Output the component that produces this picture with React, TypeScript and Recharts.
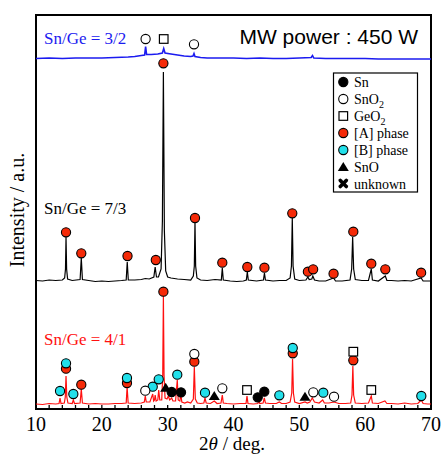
import React from "react";
import { ComposedChart, Line, Scatter, XAxis, YAxis, ReferenceArea } from "recharts";

type Pt = [number, number];

// 2θ (deg) vs intensity (a.u.), each trace relative to its own baseline
const RED_TRACE: Pt[] = [
  [10, 1], [11, 0.5], [12, 1.5], [13, 1], [13.5, 1.5], [13.65, 7], [13.8, 1.5], [14.3, 2], [14.45, 8],
  [14.56, 29], [14.68, 8], [14.85, 2], [15.5, 1.5], [15.67, 5], [15.85, 1.5], [16.7, 2], [16.88, 16],
  [17.05, 2], [18, 1], [19, 1.5], [20, 1], [21, 1], [22, 1.5], [23, 1.5], [23.7, 2], [23.84, 18],
  [24.0, 2], [25, 1.5], [26, 2], [26.45, 3], [26.6, 9], [26.75, 3], [27.3, 3], [27.73, 11], [27.87, 4],
  [28.0, 5], [28.1, 10], [28.25, 4], [28.5, 5], [28.64, 15], [28.8, 5], [29.1, 5], [29.25, 30],
  [29.35, 109], [29.45, 30], [29.6, 7], [29.9, 6], [30.1, 9], [30.3, 5], [30.61, 7], [30.8, 4],
  [31.2, 4], [31.46, 25], [31.6, 5], [31.85, 4], [32.0, 11], [32.15, 3], [32.6, 2], [33.0, 3],
  [33.5, 2], [33.9, 6], [34.05, 38], [34.2, 6], [34.5, 2], [35.0, 1.5], [35.5, 2], [35.67, 7],
  [35.85, 2], [36.5, 1.5], [37.08, 4], [37.5, 1.5], [38.1, 2], [38.3, 10], [38.45, 2], [39, 1.5],
  [40, 1], [41, 1.5], [41.9, 1.5], [42.05, 9], [42.2, 1.5], [43, 1], [43.7, 1.5], [43.85, 4],
  [44, 1.5], [44.5, 2], [44.68, 7], [44.85, 2], [45.5, 1.5], [46.5, 1.5], [46.96, 3], [47.3, 1.5],
  [48, 1.5], [48.6, 3], [48.85, 12], [48.97, 46], [49.1, 12], [49.3, 3], [50, 1.5], [50.86, 3],
  [51.2, 2], [51.6, 3], [51.97, 7], [52.3, 3], [53, 2], [53.55, 5], [53.8, 2], [54.5, 2], [55.27, 3],
  [56, 1.5], [57, 1.5], [57.8, 2], [58.0, 10], [58.13, 39], [58.25, 10], [58.5, 2], [59.5, 1.5],
  [60.5, 2], [60.93, 9], [61.1, 2], [62, 1.5], [63, 4], [63.3, 1.5], [64, 1.5], [65, 1], [66, 2],
  [67, 1], [68, 1.5], [68.53, 5], [68.8, 1.5], [69.5, 1], [70, 1],
];

const BLACK_TRACE: Pt[] = [
  [10, 0.5], [11, 0], [12, 1], [13, 0.5], [14, 1], [14.35, 3], [14.48, 12], [14.56, 44], [14.65, 12],
  [14.8, 2], [15.5, 0.5], [16.7, 1.5], [16.88, 23], [17.05, 1.5], [18, 0.5], [19, -0.5], [20, 0],
  [21, -0.5], [22, 0], [23, 0.5], [23.7, 1], [23.86, 19], [24.02, 1], [25, 1], [26, 1.5], [26.6, 2.5],
  [27.2, 2], [27.9, 4], [28.1, 14], [28.3, 4], [28.6, 4], [29.0, 12], [29.2, 60], [29.35, 209],
  [29.5, 50], [29.7, 10], [30.0, 4], [30.5, 3], [31.0, 2.5], [31.5, 2], [32.5, 1.5], [33.5, 1],
  [33.9, 5], [34.05, 15], [34.15, 59], [34.25, 15], [34.45, 3], [35, 1], [36, 0.5], [37.2, 1.5],
  [38.15, 1], [38.3, 13], [38.45, 1], [39.5, 0], [40.5, -0.5], [41.5, 0], [41.95, 1], [42.1, 9],
  [42.25, 1], [43.5, 0], [44.55, 1], [44.7, 8], [44.85, 1], [46, 0], [47, 0.5], [48, 0.5], [48.6, 3],
  [48.8, 15], [48.93, 63], [49.05, 15], [49.3, 2], [50, 0.5], [51, 1], [51.3, 4], [51.5, 1.5],
  [51.9, 2], [52.05, 5], [52.3, 1], [53, 0], [54, 0], [55.2, 3], [55.5, 0], [56.5, 0], [57.7, 1],
  [57.95, 12], [58.1, 44], [58.25, 12], [58.5, 1.5], [59.5, 0.5], [60.5, 0.5], [60.93, 12], [61.1, 1],
  [62, 0], [63.06, 5], [63.3, 0.5], [64, 0.5], [65, 0], [66, 0.5], [67, 0], [68.5, 3], [68.8, 0],
  [70, 0],
];

const BLUE_TRACE: Pt[] = [
  [10, 0], [12, 0.5], [14, 0], [16, 0.5], [18, 0.5], [20, 0.5], [22, 1], [24, 1.5], [25, 2], [26, 3],
  [26.5, 3.5], [26.65, 12], [26.8, 4], [27.5, 4], [28.5, 4.5], [29.2, 5.5], [29.4, 10], [29.6, 5.5],
  [30.5, 4.5], [31.5, 3.5], [32.5, 2.5], [33.5, 2], [33.85, 2.5], [34.0, 5], [34.15, 2], [35, 1],
  [36, 0.5], [38, 0.5], [40, 0.5], [42, 0], [44, 0.5], [46, 0], [48, 0], [50, 0.5], [51.8, 1],
  [52.0, 3], [52.2, 0.5], [54, 0], [56, 0], [58, 0], [60, 0], [62, -0.5], [64, -0.5], [66, -0.5],
  [68, -0.5], [70, -0.5],
];

const RED_OFFSET = 4;
const BLACK_OFFSET = 128;
const BLUE_OFFSET = 350.5;

// phase markers: [2θ, height on the stacked intensity scale]
const PHASE_A: Pt[] = [
  [14.56, 176.7], [16.88, 155.7], [23.9, 153], [28.2, 149], [29.35, 345.7], [34.15, 191], [38.3, 146.3],
  [42.1, 142], [44.7, 141.3], [48.93, 195.7], [51.3, 137.3], [52.1, 139.7], [55.2, 135.3], [58.2, 177.3],
  [60.93, 145.3], [63.06, 139.7], [68.5, 136.3],
  [14.56, 40.3], [16.88, 24.3], [23.82, 26], [29.35, 117.3], [34.05, 47.3], [49.0, 55.7], [58.2, 48.7],
];
const PHASE_B: Pt[] = [
  [13.65, 18], [14.56, 45.7], [15.67, 15], [23.82, 31], [27.73, 22.3], [28.64, 29.7], [31.46, 34.3],
  [35.67, 16.3], [46.96, 13.7], [49.0, 61], [53.64, 16.3], [68.53, 13],
];
const SNO2: Pt[] = [
  [26.65, 370], [34.0, 364.7],
  [26.6, 18.3], [34.05, 55], [38.3, 20.7], [52.12, 16.7], [55.27, 12.3],
];
const GEO2: Pt[] = [[29.4, 370], [42.05, 19], [58.2, 57.3], [60.93, 19]];
const SN: Pt[] = [[30.61, 17], [32.03, 16.7], [43.68, 11.7], [44.68, 17.3]];
const SNO: Pt[] = [[29.7, 21.3], [37.08, 13], [50.86, 12.3]];

const TICKS = [10, 12, 14, 16, 18, 20, 22, 24, 26, 28, 30, 32, 34, 36, 38, 40, 42, 44, 46, 48, 50, 52, 54, 56, 58, 60, 62, 64, 66, 68, 70];

const RED_A = "#f52a08";
const CYAN_B = "#22e0ea";

const rows = (pts: Pt[], off = 0) => pts.map(([x, y]) => ({ x, y: y + off }));

const Dot = ({ cx, cy, fill }: { cx: number; cy: number; fill: string }) => (
  <circle cx={cx} cy={cy} r={4.6} fill={fill} stroke="#000" strokeWidth={1.1} />
);
const Square = ({ cx, cy }: { cx: number; cy: number }) => (
  <rect x={cx - 4.3} y={cy - 4.3} width={8.6} height={8.6} fill="#fff" stroke="#000" strokeWidth={1.2} />
);
const Tri = ({ cx, cy }: { cx: number; cy: number }) => (
  <path d={`M${cx},${cy - 5} L${cx + 5.5},${cy + 4} L${cx - 5.5},${cy + 4} Z`} fill="#000" />
);
const Cross = ({ cx, cy }: { cx: number; cy: number }) => (
  <g stroke="#000" strokeWidth={3.6} strokeLinecap="round">
    <line x1={cx - 3} y1={cy - 3} x2={cx + 3} y2={cy + 3} />
    <line x1={cx + 3} y1={cy - 3} x2={cx - 3} y2={cy + 3} />
  </g>
);

const SERIF = "'Liberation Serif', 'Times New Roman', serif";

const tickFmt = (v: number) => (v % 10 === 0 ? String(v) : "");

function LegendBox() {
  const x = 343.3;
  const tx = 354;
  const ys = [82, 99, 116, 133, 150, 167, 183.5];
  const label = (y: number, main: string, sub?: string) => (
    <text x={tx} y={y + 5} fontFamily={SERIF} fontSize={14} fill="#000">
      {main}
      {sub && (
        <tspan fontSize={10} dy={4}>
          {sub}
        </tspan>
      )}
    </text>
  );
  return (
    <g>
      <rect x={333.5} y={73} width={84} height={119} fill="#fff" stroke="#000" strokeWidth={1.2} />
      <Dot cx={x} cy={ys[0]} fill="#000" />
      {label(ys[0], "Sn")}
      <Dot cx={x} cy={ys[1]} fill="#fff" />
      {label(ys[1], "SnO", "2")}
      <Square cx={x} cy={ys[2]} />
      {label(ys[2], "GeO", "2")}
      <Dot cx={x} cy={ys[3]} fill={RED_A} />
      {label(ys[3], "[A] phase")}
      <Dot cx={x} cy={ys[4]} fill={CYAN_B} />
      {label(ys[4], "[B] phase")}
      <Tri cx={x} cy={ys[5]} />
      {label(ys[5], "SnO")}
      <Cross cx={x} cy={ys[6]} />
      {label(ys[6], "unknown")}
    </g>
  );
}

export default function App() {
  return (
    <div style={{ position: "absolute", left: 0, top: 0, width: 442, height: 454, background: "#fff" }}>
      <ComposedChart width={442} height={454} margin={{ top: 15, right: 11, bottom: 0, left: 36 }}>
        <XAxis
          dataKey="x"
          type="number"
          domain={[10, 70]}
          ticks={TICKS}
          allowDataOverflow
          height={45}
          axisLine={false}
          tickSize={-4}
          tickMargin={12}
          tickLine={{ stroke: "#000", strokeWidth: 1.3 }}
          tickFormatter={tickFmt}
          tick={{ fill: "#000", fontSize: 20, fontFamily: SERIF }}
          interval={0}
        />
        <XAxis
          xAxisId="top"
          orientation="top"
          dataKey="x"
          type="number"
          domain={[10, 70]}
          ticks={TICKS}
          height={0}
          axisLine={false}
          tickSize={-4}
          tickLine={{ stroke: "#000", strokeWidth: 1.3 }}
          tickFormatter={() => ""}
          interval={0}
        />
        <YAxis hide type="number" domain={[0, 394]} allowDataOverflow />
        <Line data={rows(BLUE_TRACE, BLUE_OFFSET)} dataKey="y" type="linear" stroke="#1b1bf0" strokeWidth={1.6} dot={false} activeDot={false} isAnimationActive={false} />
        <Line data={rows(BLACK_TRACE, BLACK_OFFSET)} dataKey="y" type="linear" stroke="#000" strokeWidth={1.2} dot={false} activeDot={false} isAnimationActive={false} />
        <Line data={rows(RED_TRACE, RED_OFFSET)} dataKey="y" type="linear" stroke="#ff1010" strokeWidth={1.2} dot={false} activeDot={false} isAnimationActive={false} />
        <Scatter data={rows(PHASE_A)} dataKey="y" isAnimationActive={false} shape={(p: any) => <Dot cx={p.cx} cy={p.cy} fill={RED_A} />} />
        <Scatter data={rows(PHASE_B)} dataKey="y" isAnimationActive={false} shape={(p: any) => <Dot cx={p.cx} cy={p.cy} fill={CYAN_B} />} />
        <Scatter data={rows(SNO2)} dataKey="y" isAnimationActive={false} shape={(p: any) => <Dot cx={p.cx} cy={p.cy} fill="#fff" />} />
        <Scatter data={rows(GEO2)} dataKey="y" isAnimationActive={false} shape={(p: any) => <Square cx={p.cx} cy={p.cy} />} />
        <Scatter data={rows(SN)} dataKey="y" isAnimationActive={false} shape={(p: any) => <Dot cx={p.cx} cy={p.cy} fill="#000" />} />
        <Scatter data={rows(SNO)} dataKey="y" isAnimationActive={false} shape={(p: any) => <Tri cx={p.cx} cy={p.cy} />} />
        <ReferenceArea x1={10} x2={70} y1={0} y2={394} fill="none" fillOpacity={0} stroke="#000" strokeWidth={2} ifOverflow="visible" />
      </ComposedChart>
      <svg width={442} height={454} style={{ position: "absolute", left: 0, top: 0, pointerEvents: "none" }}>
        <text x={44} y={43.5} fontFamily={SERIF} fontSize={17} fill="#1b1bf0">Sn/Ge = 3/2</text>
        <text x={418} y={43.5} textAnchor="end" fontFamily="'Liberation Sans', Arial, sans-serif" fontSize={21} fill="#000">MW power : 450 W</text>
        <text x={44} y={213.5} fontFamily={SERIF} fontSize={17} fill="#000">Sn/Ge = 7/3</text>
        <text x={44} y={344.5} fontFamily={SERIF} fontSize={17} fill="#ff1010">Sn/Ge = 4/1</text>
        <text transform="translate(24,210) rotate(-90)" textAnchor="middle" fontFamily={SERIF} fontSize={20} fill="#000">Intensity / a.u.</text>
        <text x={232} y={450} textAnchor="middle" fontFamily={SERIF} fontSize={19} fill="#000">
          2<tspan fontStyle="italic">θ</tspan> / deg.
        </text>
        <LegendBox />
      </svg>
    </div>
  );
}
